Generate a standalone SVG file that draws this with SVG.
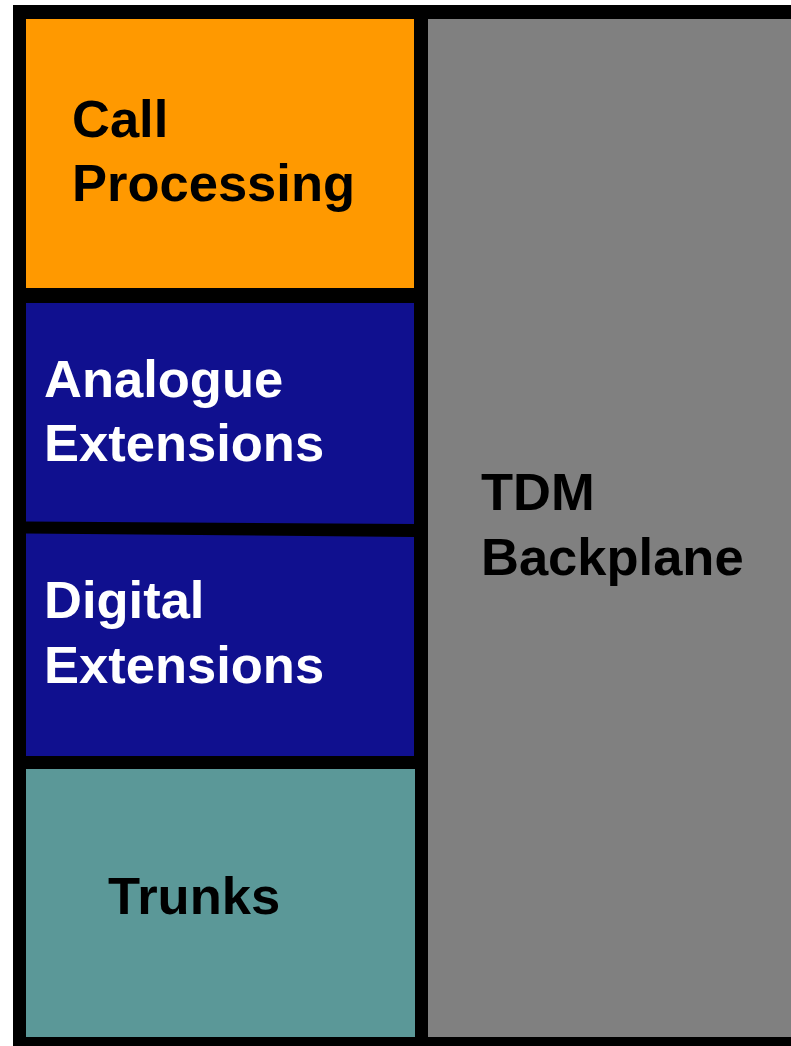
<svg xmlns="http://www.w3.org/2000/svg" width="791" height="1046" viewBox="0 0 791 1046">
<style>
.lbl{font-family:"Liberation Sans",Arial,sans-serif;font-weight:bold;font-size:52.5px}
.dark{fill:#000}
.light{fill:#fff}
</style>
<rect x="0" y="0" width="791" height="1046" fill="#fff"/>
<rect x="13" y="5" width="778" height="1041" fill="#000"/>
<g id="backplane">
<rect x="428" y="19" width="363" height="1018" fill="#808080"/>
<text class="lbl dark" x="481" y="510">TDM</text>
<text class="lbl dark" x="481" y="575">Backplane</text>
</g>
<g id="call-processing">
<rect x="26" y="19" width="388" height="269" fill="#FF9900"/>
<text class="lbl dark" x="72" y="137">Call</text>
<text class="lbl dark" x="72" y="201">Processing</text>
</g>
<g id="analogue">
<polygon points="26,303 414,303 414,524 26,521.5" fill="#10108F"/>
<text class="lbl light" x="44" y="397">Analogue</text>
<text class="lbl light" x="44" y="461">Extensions</text>
</g>
<g id="digital">
<polygon points="26,533.5 414,537 414,756 26,756" fill="#10108F"/>
<text class="lbl light" x="44" y="618">Digital</text>
<text class="lbl light" x="44" y="683">Extensions</text>
</g>
<g id="trunks">
<rect x="26" y="769" width="389" height="268" fill="#5B9898"/>
<text class="lbl dark" x="108" y="914">Trunks</text>
</g>
<g id="connectors"></g>
</svg>
